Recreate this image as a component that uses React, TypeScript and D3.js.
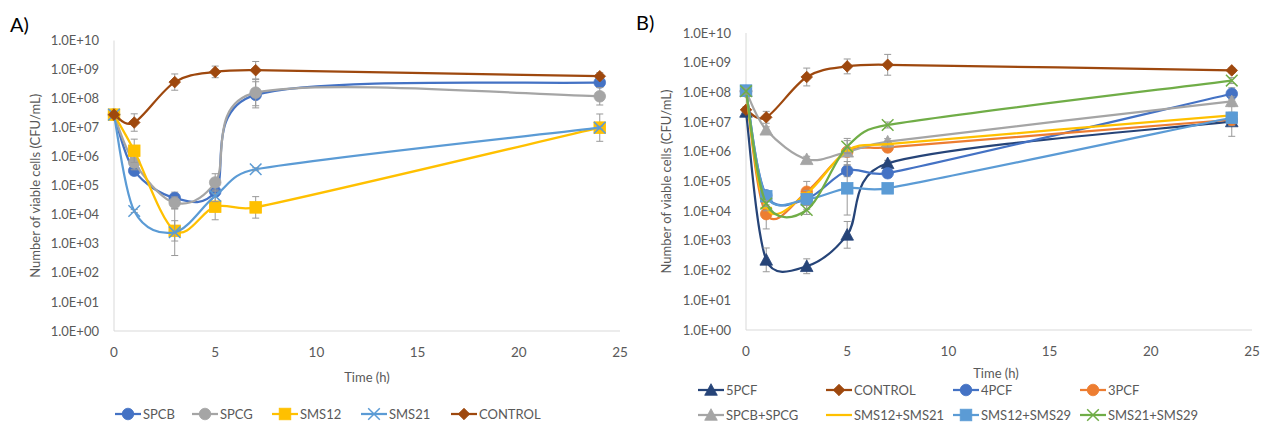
import React from "react";
import * as d3 from "d3";

const times = [0, 1, 3, 5, 7, 24];
const xTicks = [0, 5, 10, 15, 20, 25];
const yTicks = [1, 10, 1e2, 1e3, 1e4, 1e5, 1e6, 1e7, 1e8, 1e9, 1e10];
const yTickLabels = ["1.0E+00", "1.0E+01", "1.0E+02", "1.0E+03", "1.0E+04", "1.0E+05", "1.0E+06", "1.0E+07", "1.0E+08", "1.0E+09", "1.0E+10"];

// Panel A values (CFU/mL) and error half-widths (log10 units)
const aSPCB = [2.8e7, 3.3e5, 3.8e4, 6.3e4, 1.35e8, 3.6e8];
const aSPCBErr = [0.1, 0.15, 0.2, 0.15, 0.45, 0.1];
const aSPCG = [2.8e7, 6.3e5, 2.6e4, 1.3e5, 1.6e8, 1.2e8];
const aSPCGErr = [0.1, 0.25, 0.2, 0.3, 0.45, 0.3];
const aSMS12 = [2.8e7, 1.6e6, 2.8e3, 1.9e4, 1.8e4, 1.0e7];
const aSMS12Err = [0.1, 0.4, 0.35, 0.45, 0.37, 0.47];
const aSMS21 = [2.8e7, 1.35e4, 2.5e3, 4.5e4, 3.7e5, 1.0e7];
const aSMS21Err = [0.1, 0.05, 0.8, 0.2, 0.05, 0.05];
const aCONTROL = [2.8e7, 1.5e7, 3.7e8, 8.3e8, 9.5e8, 5.9e8];
const aCONTROLErr = [0.1, 0.3, 0.28, 0.2, 0.3, 0.12];

// Panel B values
const b5PCF = [2.2e7, 2.3e2, 1.4e2, 1.6e3, 4.1e5, 1.05e7];
const b5PCFErr = [0.1, 0.4, 0.25, 0.45, 0.1, 0.5];
const bCONTROL = [2.6e7, 1.45e7, 3.3e8, 7.5e8, 8.5e8, 5.5e8];
const bCONTROLErr = [0.1, 0.2, 0.3, 0.25, 0.35, 0.08];
const b4PCF = [1.1e8, 3.4e4, 2.6e4, 2.3e5, 1.9e5, 9e7];
const b4PCFErr = [0.1, 0.1, 0.35, 0.2, 0.15, 0.2];
const b3PCF = [1.1e8, 8e3, 4.5e4, 1.0e6, 1.4e6, 1.2e7];
const b3PCFErr = [0.1, 0.5, 0.35, 0.45, 0.15, 0.2];
const bSPCBSPCG = [1.1e8, 5.5e6, 5.6e5, 1.0e6, 2.2e6, 5e7];
const bSPCBSPCGErr = [0.15, 0.1, 0.1, 0.1, 0.1, 0.15];
const bSMS12SMS21 = [1.1e8, 1.3e4, 4e4, 1.1e6, 1.8e6, 1.7e7];
const bSMS12SMS21Err = [0.1, 0.1, 0.1, 0.1, 0.1, 0.1];
const bSMS12SMS29 = [1.15e8, 3.2e4, 2.5e4, 5.9e4, 5.9e4, 1.4e7];
const bSMS12SMS29Err = [0.1, 0.1, 0.2, 0.9, 0.1, 0.1];
const bSMS21SMS29 = [1.1e8, 1.8e4, 1.1e4, 1.5e6, 8e6, 2.5e8];
const bSMS21SMS29Err = [0.1, 0.1, 0.15, 0.2, 0.1, 0.1];

type Marker = "circle" | "square" | "diamond" | "triangle" | "x" | "dash";
type Series = { name: string; values: number[]; err: number[]; color: string; marker: Marker };

const seriesA: Series[] = [
  { name: "SPCB", values: aSPCB, err: aSPCBErr, color: "#4472C4", marker: "circle" },
  { name: "SPCG", values: aSPCG, err: aSPCGErr, color: "#A5A5A5", marker: "circle" },
  { name: "SMS12", values: aSMS12, err: aSMS12Err, color: "#FFC000", marker: "square" },
  { name: "SMS21", values: aSMS21, err: aSMS21Err, color: "#5B9BD5", marker: "x" },
  { name: "CONTROL", values: aCONTROL, err: aCONTROLErr, color: "#9E480E", marker: "diamond" },
];

const seriesB: Series[] = [
  { name: "5PCF", values: b5PCF, err: b5PCFErr, color: "#264478", marker: "triangle" },
  { name: "CONTROL", values: bCONTROL, err: bCONTROLErr, color: "#9E480E", marker: "diamond" },
  { name: "4PCF", values: b4PCF, err: b4PCFErr, color: "#4472C4", marker: "circle" },
  { name: "3PCF", values: b3PCF, err: b3PCFErr, color: "#ED7D31", marker: "circle" },
  { name: "SPCB+SPCG", values: bSPCBSPCG, err: bSPCBSPCGErr, color: "#A5A5A5", marker: "triangle" },
  { name: "SMS12+SMS21", values: bSMS12SMS21, err: bSMS12SMS21Err, color: "#FFC000", marker: "dash" },
  { name: "SMS12+SMS29", values: bSMS12SMS29, err: bSMS12SMS29Err, color: "#5B9BD5", marker: "square" },
  { name: "SMS21+SMS29", values: bSMS21SMS29, err: bSMS21SMS29Err, color: "#70AD47", marker: "x" },
];

const FONT = "Lato, 'Open Sans', sans-serif";
const TXT = "#595959";

// Excel-like smoothed line: cubic Bezier with control arms (P[i+1]-P[i-1])/6,
// each arm limited to half of the segment length.
function smoothPath(pts: [number, number][]): string {
  const p = d3.path();
  const n = pts.length;
  if (!n) return "";
  p.moveTo(pts[0][0], pts[0][1]);
  const f = 1 / 6;
  for (let i = 0; i < n - 1; i++) {
    const P0 = pts[Math.max(0, i - 1)];
    const P1 = pts[i];
    const P2 = pts[i + 1];
    const P3 = pts[Math.min(n - 1, i + 2)];
    const seg = Math.hypot(P2[0] - P1[0], P2[1] - P1[1]);
    const lim = seg / 2;
    let ax = (P2[0] - P0[0]) * f;
    let ay = (P2[1] - P0[1]) * f;
    let la = Math.hypot(ax, ay);
    if (la > lim && la > 0) {
      ax *= lim / la;
      ay *= lim / la;
    }
    let bx = (P3[0] - P1[0]) * f;
    let by = (P3[1] - P1[1]) * f;
    let lb = Math.hypot(bx, by);
    if (lb > lim && lb > 0) {
      bx *= lim / lb;
      by *= lim / lb;
    }
    p.bezierCurveTo(P1[0] + ax, P1[1] + ay, P2[0] - bx, P2[1] - by, P2[0], P2[1]);
  }
  return p.toString();
}

function MarkerShape({ type, cx, cy, color }: { type: Marker; cx: number; cy: number; color: string }) {
  const s = 5.8;
  switch (type) {
    case "circle":
      return <circle cx={cx} cy={cy} r={s} fill={color} stroke={color} strokeWidth={0.8} />;
    case "square":
      return <rect x={cx - s} y={cy - s} width={2 * s} height={2 * s} fill={color} stroke={color} strokeWidth={0.8} />;
    case "diamond":
      return <path d={`M${cx},${cy - s}L${cx + s},${cy}L${cx},${cy + s}L${cx - s},${cy}Z`} fill={color} stroke={color} strokeWidth={0.8} />;
    case "triangle":
      return <path d={`M${cx},${cy - s - 0.5}L${cx + s + 0.5},${cy + s - 0.5}L${cx - s - 0.5},${cy + s - 0.5}Z`} fill={color} stroke={color} strokeWidth={0.8} />;
    case "x":
      return <path d={`M${cx - s},${cy - s}L${cx + s},${cy + s}M${cx - s},${cy + s}L${cx + s},${cy - s}`} stroke={color} strokeWidth={1.5} fill="none" />;
    case "dash":
      return <path d={`M${cx - s},${cy}L${cx + s},${cy}`} stroke={color} strokeWidth={2} fill="none" />;
  }
  return null;
}

type PanelProps = {
  label: string;
  labelX: number;
  labelY: number;
  x0: number;
  x1: number;
  yTop: number;
  yBot: number;
  series: Series[];
  yTitleX: number;
  timeY: number;
  timeX: number;
  legend: { cx: number; cy: number }[];
};

function Panel(p: PanelProps) {
  const x = d3.scaleLinear().domain([0, 25]).range([p.x0, p.x1]);
  const y = d3.scaleLog().domain([1, 1e10]).range([p.yBot, p.yTop]);
  const ew = 3.5;
  return (
    <g>
      <text x={p.labelX} y={p.labelY} fontFamily={FONT} fontSize={20} fill="#000">{p.label}</text>
      <line x1={p.x0} x2={p.x0} y1={p.yTop} y2={p.yBot} stroke="#D9D9D9" strokeWidth={1} />
      <line x1={p.x0} x2={p.x1} y1={p.yBot} y2={p.yBot} stroke="#D9D9D9" strokeWidth={1} />
      {yTicks.map((t, i) => (
        <text key={i} x={p.x0 - 15} y={y(t)} dy="0.35em" textAnchor="end" fontFamily={FONT} fontSize={13} fill={TXT}>
          {yTickLabels[i]}
        </text>
      ))}
      {xTicks.map((t) => (
        <text key={t} x={x(t)} y={p.yBot + 21} dy="0.35em" textAnchor="middle" fontFamily={FONT} fontSize={13.5} fill={TXT}>
          {t}
        </text>
      ))}
      <text
        transform={`translate(${p.yTitleX},${(p.yTop + p.yBot) / 2}) rotate(-90)`}
        textAnchor="middle"
        dy="0.35em"
        fontFamily={FONT}
        fontSize={13}
        fill={TXT}
      >
        Number of viable cells (CFU/mL)
      </text>
      <text x={p.timeX} y={p.timeY} dy="0.35em" textAnchor="middle" fontFamily={FONT} fontSize={13} fill={TXT}>
        Time (h)
      </text>
      {p.series.map((s) => {
        const pts: [number, number][] = s.values.map((v, i) => [x(times[i]), y(v)]);
        return (
          <g key={s.name}>
            <path d={smoothPath(pts)} fill="none" stroke={s.color} strokeWidth={2.25} />
            {s.values.map((v, i) => {
              const e = s.err[i];
              const yHi = y(v * Math.pow(10, e));
              const yLo = y(v / Math.pow(10, e));
              const xx = x(times[i]);
              return (
                <g key={i} stroke="#999999" strokeWidth={1}>
                  <line x1={xx} x2={xx} y1={yHi} y2={yLo} />
                  <line x1={xx - ew} x2={xx + ew} y1={yHi} y2={yHi} />
                  <line x1={xx - ew} x2={xx + ew} y1={yLo} y2={yLo} />
                </g>
              );
            })}
            {s.values.map((v, i) => (
              <MarkerShape key={i} type={s.marker} cx={x(times[i])} cy={y(v)} color={s.color} />
            ))}
          </g>
        );
      })}
      {p.series.map((s, i) => {
        const L = p.legend[i];
        return (
          <g key={"lg" + s.name}>
            <line x1={L.cx - 13} x2={L.cx + 13} y1={L.cy} y2={L.cy} stroke={s.color} strokeWidth={2.25} />
            <MarkerShape type={s.marker} cx={L.cx} cy={L.cy} color={s.color} />
            <text x={L.cx + 15} y={L.cy} dy="0.35em" fontFamily={FONT} fontSize={13} fill={TXT}>
              {s.name}
            </text>
          </g>
        );
      })}
    </g>
  );
}

const legendA = [
  { cx: 128, cy: 414 },
  { cx: 205, cy: 414 },
  { cx: 285, cy: 414 },
  { cx: 374, cy: 414 },
  { cx: 464, cy: 414 },
];

const legendB = [
  { cx: 711, cy: 390 },
  { cx: 839, cy: 390 },
  { cx: 966, cy: 390 },
  { cx: 1093, cy: 390 },
  { cx: 711, cy: 415 },
  { cx: 839, cy: 415 },
  { cx: 966, cy: 415 },
  { cx: 1093, cy: 415 },
];

export default function App() {
  return (
    <svg width={1265} height={423} style={{ position: "absolute", left: 0, top: 0, background: "#fff" }}>
      <rect width={1265} height={423} fill="#fff" />
      <Panel
        label="A)"
        labelX={10}
        labelY={32}
        x0={114}
        x1={620}
        yTop={40.5}
        yBot={331}
        series={seriesA}
        yTitleX={35}
        timeX={367}
        timeY={377}
        legend={legendA}
      />
      <Panel
        label="B)"
        labelX={636}
        labelY={30}
        x0={746}
        x1={1252}
        yTop={33}
        yBot={330}
        series={seriesB}
        yTitleX={666}
        timeX={996}
        timeY={373}
        legend={legendB}
      />
    </svg>
  );
}
